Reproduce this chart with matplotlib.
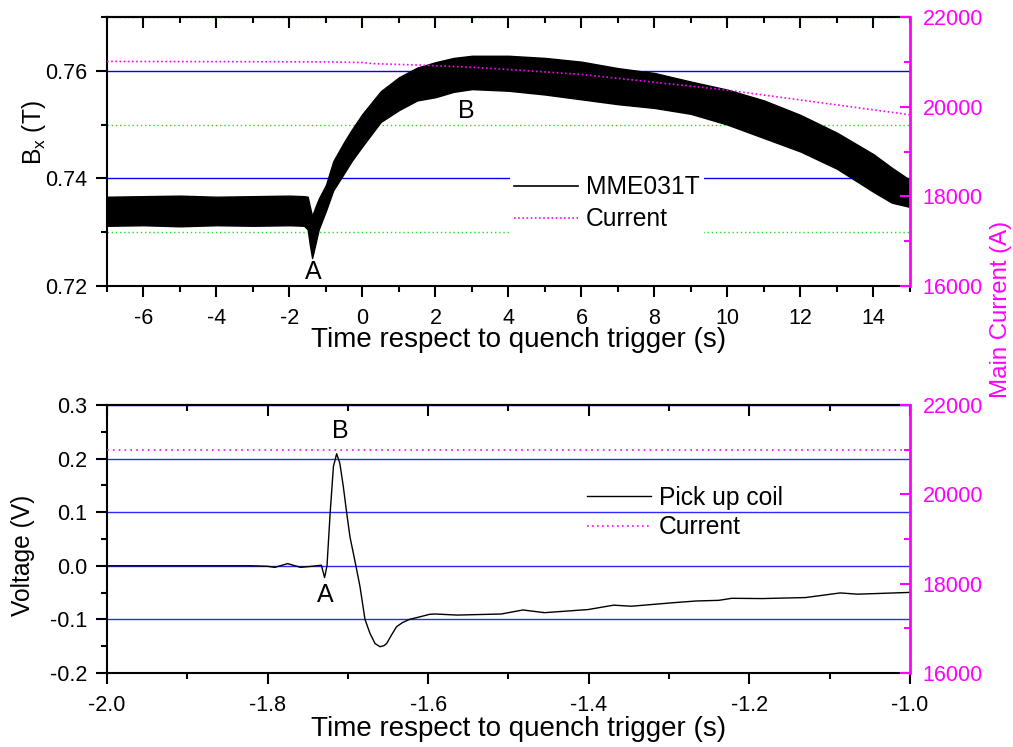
import numpy as np
import matplotlib
matplotlib.use('Agg')
import matplotlib.pyplot as plt
from matplotlib.ticker import MultipleLocator, FormatStrFormatter
from matplotlib.lines import Line2D

plt.rcParams['font.family'] = ['Liberation Sans', 'DejaVu Sans']
plt.rcParams['axes.unicode_minus'] = False

# top panel: Hall probe MME031T, band envelope
bx_t = [-7, -6, -5, -4, -3, -2, -1.6, -1.5, -1.45, -1.38, -1.3, -1.2, -1.0, -0.8, -0.5, -0.3,
        0, 0.5, 1.0, 1.5, 2.0, 2.5, 3, 4, 5, 6, 7, 8, 9, 10, 11, 12, 13, 14, 14.5, 15]
bx_low = [0.7312, 0.7313, 0.7311, 0.7313, 0.7312, 0.7313, 0.7312, 0.7305, 0.7280, 0.7252, 0.7275,
          0.7305, 0.7340, 0.7378, 0.7410, 0.7432, 0.7460, 0.7505, 0.7527, 0.7545, 0.7551, 0.7561,
          0.7566, 0.7563, 0.7556, 0.7547, 0.7538, 0.7531, 0.7520, 0.7500, 0.7475, 0.7450, 0.7418,
          0.7375, 0.7355, 0.7347]
bx_high = [0.7366, 0.7367, 0.7368, 0.7366, 0.7367, 0.7368, 0.7367, 0.7366, 0.7350, 0.7330, 0.7345,
           0.7362, 0.7388, 0.7432, 0.7468, 0.7490, 0.7520, 0.7562, 0.7588, 0.7606, 0.7616, 0.7624,
           0.7628, 0.7628, 0.7624, 0.7617, 0.7605, 0.7596, 0.7580, 0.7565, 0.7545, 0.7518, 0.7485,
           0.7445, 0.7420, 0.7397]

cur_t_top = [-7, -4, -1, 0, 0.3, 1.5, 3, 4, 6, 8, 10, 12, 14, 15]
cur_top = [21010, 21005, 21000, 20985, 20960, 20930, 20880, 20830, 20720, 20545, 20370, 20150,
           19930, 19820]

# bottom panel: pick up coil voltage
pu_t = [-2.0, -1.82, -1.80, -1.791, -1.775, -1.759, -1.745, -1.733, -1.729, -1.726, -1.722, -1.718,
        -1.714, -1.710, -1.7057, -1.7016, -1.6974, -1.690, -1.6849, -1.6787, -1.6725, -1.6662,
        -1.660, -1.655, -1.6517, -1.6456, -1.6393, -1.632, -1.6227, -1.615, -1.607, -1.598,
        -1.591, -1.564, -1.509, -1.482, -1.455, -1.401, -1.369, -1.347, -1.293, -1.266, -1.238,
        -1.222, -1.184, -1.130, -1.087, -1.065, -1.0]
pu_v = [0.0, 0.0, -0.001, -0.003, 0.004, -0.003, -0.001, 0.001, -0.022, 0.0, 0.1, 0.185,
        0.209, 0.191, 0.148, 0.1, 0.054, 0.0, -0.039, -0.1, -0.126, -0.145,
        -0.151, -0.149, -0.145, -0.129, -0.1136, -0.106, -0.0997, -0.097, -0.094, -0.0905,
        -0.090, -0.092, -0.090, -0.0825, -0.0875, -0.0817, -0.0735, -0.0755, -0.0687, -0.0657,
        -0.0645, -0.0607, -0.0612, -0.0593, -0.0507, -0.053, -0.0497]

cur_t_bot = [-2.0, -1.0]
cur_bot = [21000, 21000]

MAG = '#ff00ff'
TICK_FS = 15.5
XLAB_FS = 20
YLAB_FS = 17.7
LEG_FS = 17.7

fig = plt.figure(figsize=(10.13, 7.47), dpi=100)
ax1 = fig.add_axes([0.1056, 0.6171, 0.7927, 0.3601])
ax3 = fig.add_axes([0.1056, 0.0991, 0.7927, 0.3588])


def style_axes(ax, xmaj, xmin, ymaj, ymin, xfmt, yfmt):
    ax.xaxis.set_major_locator(MultipleLocator(xmaj))
    ax.xaxis.set_minor_locator(MultipleLocator(xmin))
    ax.yaxis.set_major_locator(MultipleLocator(ymaj))
    ax.yaxis.set_minor_locator(MultipleLocator(ymin))
    ax.xaxis.set_major_formatter(FormatStrFormatter(xfmt))
    ax.yaxis.set_major_formatter(FormatStrFormatter(yfmt))
    ax.tick_params(which='both', direction='out', width=1.5, labelsize=TICK_FS,
                   top=False, right=False)
    ax.tick_params(which='major', length=8, pad=6)
    ax.tick_params(axis='x', which='major', pad=7.5)
    ax.tick_params(which='minor', length=4.5)
    for s in ax.spines.values():
        s.set_linewidth(1.5)
    ax.spines['right'].set_visible(False)
    sec = ax.secondary_xaxis('top')
    sec.xaxis.set_major_locator(MultipleLocator(xmaj))
    sec.xaxis.set_minor_locator(MultipleLocator(xmin))
    sec.tick_params(which='both', direction='in', width=1.5, labeltop=False)
    sec.tick_params(which='major', length=8)
    sec.tick_params(which='minor', length=4.5)
    sec.spines['top'].set_linewidth(1.5)


def style_twin(tw):
    tw.set_ylim(16000, 22000)
    tw.yaxis.set_major_locator(MultipleLocator(2000))
    tw.yaxis.set_minor_locator(MultipleLocator(1000))
    tw.tick_params(which='both', direction='in', colors=MAG, width=1.5, labelsize=TICK_FS)
    tw.tick_params(which='major', length=7, pad=9)
    tw.tick_params(which='minor', length=4)
    tw.spines['right'].set_color(MAG)
    tw.spines['right'].set_linewidth(2)
    for k in ['left', 'top', 'bottom']:
        tw.spines[k].set_visible(False)


# ---- top panel
ax1.set_xlim(-7, 15)
ax1.set_ylim(0.72, 0.77)
style_axes(ax1, 2, 1, 0.02, 0.01, '%d', '%.2f')
ax1.set_axisbelow(True)
ax1.grid(which='major', axis='y', color='blue', lw=1)
ax1.grid(which='minor', axis='y', color='#22dd22', lw=1, ls=(0, (1, 2)))
ax1.fill_between(bx_t, bx_low, bx_high, color='black', lw=1, zorder=3)
ax1.set_xlabel('Time respect to quench trigger (s)', fontsize=XLAB_FS)
ax1.xaxis.set_label_coords(0.513, -0.153)
ax1.set_ylabel(r'B$_\mathregular{x}$ (T)', fontsize=YLAB_FS)
ax1.yaxis.set_label_coords(-0.0735, 0.57)
ax1.text(-1.36, 0.7226, 'A', fontsize=18, ha='center', va='center', zorder=5)
ax1.text(2.84, 0.7525, 'B', fontsize=18, ha='center', va='center', zorder=5)

ax2 = ax1.twinx()
style_twin(ax2)
ax2.plot(cur_t_top, cur_top, color=MAG, lw=1.2, ls=(0, (1, 1.5)))

h_top = [Line2D([], [], color='black', lw=1.2), Line2D([], [], color=MAG, lw=1.2, ls=(0, (1, 1.5)))]
ax2.legend(h_top, ['MME031T', 'Current'], loc='upper left',
           bbox_to_anchor=(0.503, 0.772), bbox_transform=fig.transFigure,
           fontsize=LEG_FS, handlelength=2.6, handletextpad=0.3, labelspacing=0.33,
           borderpad=0.2, borderaxespad=0, frameon=True, fancybox=False,
           framealpha=1, edgecolor='none', facecolor='white')

# ---- bottom panel
ax3.set_xlim(-2.0, -1.0)
ax3.set_ylim(-0.2, 0.3)
style_axes(ax3, 0.2, 0.1, 0.1, 0.05, '%.1f', '%.1f')
ax3.set_axisbelow(True)
ax3.grid(which='major', axis='y', color='#2a2aff', lw=1)
ax3.plot(pu_t, pu_v, color='black', lw=1, zorder=3)
ax3.set_xlabel('Time respect to quench trigger (s)', fontsize=XLAB_FS)
ax3.xaxis.set_label_coords(0.513, -0.162)
ax3.set_ylabel('Voltage (V)', fontsize=YLAB_FS)
ax3.yaxis.set_label_coords(-0.0897, 0.44)
ax3.text(-1.7285, -0.0545, 'A', fontsize=18, ha='center', va='center', zorder=5)
ax3.text(-1.71, 0.251, 'B', fontsize=18, ha='center', va='center', zorder=5)

ax4 = ax3.twinx()
style_twin(ax4)
ax4.plot(cur_t_bot, cur_bot, color=MAG, lw=1.2, ls=(0, (1, 2.5)))

h_bot = [Line2D([], [], color='black', lw=1), Line2D([], [], color=MAG, lw=1.2, ls=(0, (1, 2)))]
ax4.legend(h_bot, ['Pick up coil', 'Current'], loc='upper left',
           bbox_to_anchor=(0.575, 0.356), bbox_transform=fig.transFigure,
           fontsize=LEG_FS, handlelength=2.6, handletextpad=0.3, labelspacing=0.22,
           borderpad=0.2, borderaxespad=0, frameon=False)

fig.text(0.988, 0.586, 'Main Current (A)', color=MAG, fontsize=17.3, rotation=90,
         ha='center', va='center')

fig.savefig('out.png', dpi=100)
